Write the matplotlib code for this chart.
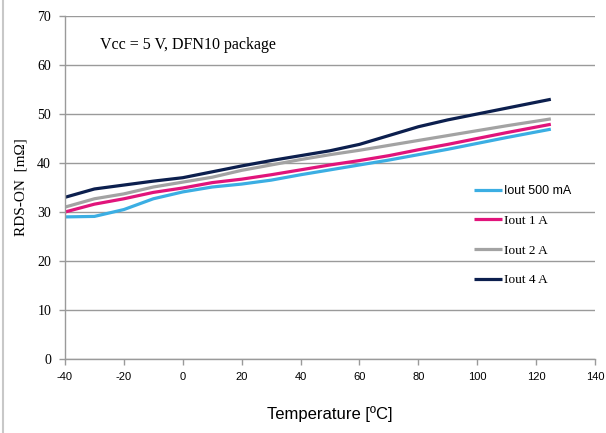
import matplotlib
matplotlib.use("Agg")
import matplotlib.pyplot as plt
from matplotlib.lines import Line2D

plt.rcParams["axes.unicode_minus"] = False

temps = [-40, -30, -20, -10, 0, 10, 20, 30, 40, 50, 60, 70, 80, 90, 100, 110, 125]
iout_500ma = [29.0, 29.1, 30.5, 32.7, 34.1, 35.1, 35.7, 36.5, 37.6, 38.6, 39.6, 40.6, 41.7, 42.8, 44.0, 45.2, 46.9]
iout_1a = [30.0, 31.6, 32.7, 34.0, 34.9, 36.0, 36.7, 37.6, 38.6, 39.6, 40.5, 41.5, 42.7, 43.8, 45.0, 46.2, 47.9]
iout_2a = [31.0, 32.7, 33.7, 35.1, 36.1, 37.1, 38.5, 39.6, 40.7, 41.7, 42.6, 43.6, 44.6, 45.6, 46.6, 47.6, 49.0]
iout_4a = [33.0, 34.7, 35.5, 36.3, 37.0, 38.2, 39.4, 40.5, 41.5, 42.5, 43.8, 45.6, 47.4, 48.8, 50.0, 51.2, 53.0]

labels = ["Iout 500 mA", "Iout 1 A", "Iout 2 A", "Iout 4 A"]
colors = ["#3BAEE3", "#E1147B", "#A3A3A3", "#0C1F4E"]
xticks = [-40, -20, 0, 20, 40, 60, 80, 100, 120, 140]
yticks = [0, 10, 20, 30, 40, 50, 60, 70]

serif = "Liberation Serif"
sans = "Liberation Sans"

fig = plt.figure(figsize=(6.06, 4.33), dpi=100)
ax = fig.add_axes([65 / 606, 1 - 359 / 433, 530 / 606, 343 / 433])

for ys, lab, c in zip([iout_500ma, iout_1a, iout_2a, iout_4a], labels, colors):
    ax.plot(temps, ys, color=c, lw=2.3, label=lab, solid_capstyle="butt",
            solid_joinstyle="round")

ax.set_xlim(-40, 140)
ax.set_ylim(0, 70)
ax.set_xticks(xticks)
ax.set_yticks(yticks)
ax.grid(axis="y", color="#9A9A9A", lw=1.0)
ax.set_axisbelow(True)
for s in ["top", "right"]:
    ax.spines[s].set_visible(False)
for s in ["left", "bottom"]:
    ax.spines[s].set_color("#9A9A9A")
    ax.spines[s].set_linewidth(1.0)
ax.tick_params(axis="both", direction="out", length=4, color="#9A9A9A", width=1.0)
ax.tick_params(axis="y", pad=6)
ax.tick_params(axis="x", pad=5)
for t in ax.get_yticklabels():
    t.set_family(serif)
    t.set_fontsize(10)
for t in ax.get_xticklabels():
    t.set_family(sans)
    t.set_fontsize(8)

ax.set_ylabel("RDS-ON  [mΩ]", family=serif, fontsize=11, labelpad=7)
ax.set_xlabel("Temperature [ºC]", family=sans, fontsize=12, labelpad=18)

ax.text(-28, 64.0, "Vcc = 5 V, DFN10 package", family=serif, fontsize=11.5,
        va="center", ha="left")

leg = ax.legend(loc="upper left", bbox_to_anchor=(474 / 606, 1 - 185 / 433),
                bbox_transform=fig.transFigure, frameon=False, borderpad=0,
                borderaxespad=0, handlelength=2.1, handletextpad=0.15,
                labelspacing=1.32, prop={"family": serif, "size": 9.5})
leg.get_texts()[0].set_family(sans)
leg.get_texts()[0].set_fontsize(9)

fig.add_artist(Line2D([3 / 606, 3 / 606], [0, 1], color="#C8C8C8", lw=1.5,
                      transform=fig.transFigure))

fig.savefig("out.png", dpi=100)
